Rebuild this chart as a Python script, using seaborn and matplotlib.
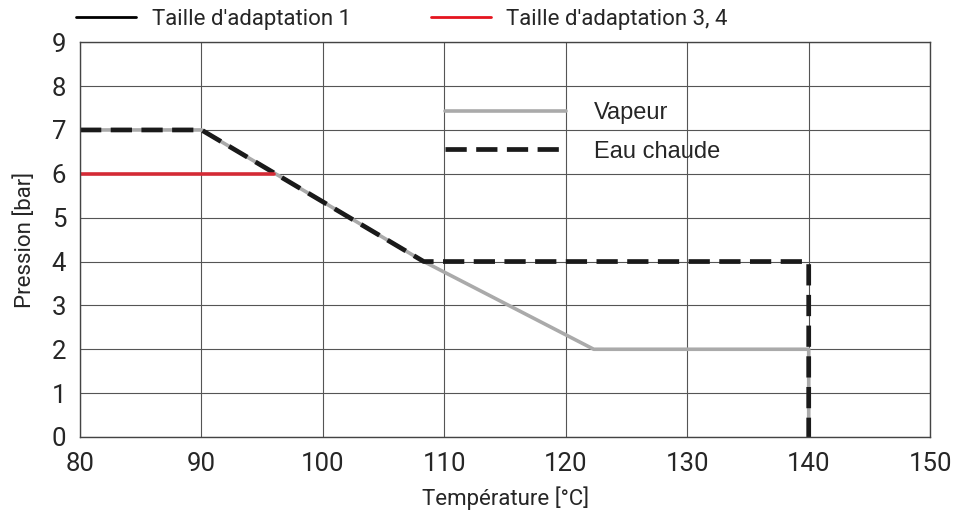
import pandas as pd
import numpy as np
import seaborn as sns
import matplotlib.pyplot as plt
from matplotlib.lines import Line2D

# values
vapeur_temp = [80, 90, 108.3, 122.3, 140, 140]
vapeur_pres = [7, 7, 4, 2, 2, 0]
eau_temp = [80, 90, 108.3, 140, 140]
eau_pres = [7, 7, 4, 4, 0]
taille34_temp = [80, 96]
taille34_pres = [6, 6]

sns.set_style("white")
plt.rcParams['font.family'] = ['Roboto', 'DejaVu Sans']

fig = plt.figure(figsize=(9.54, 5.15), dpi=100)
ax = fig.add_axes([0.0839, 0.1515, 0.975 - 0.0839, 0.918 - 0.1515])

sns.lineplot(x=vapeur_temp, y=vapeur_pres, sort=False, estimator=None,
             color='#aaaaaa', lw=2.6, ax=ax, label='Vapeur')
sns.lineplot(x=eau_temp, y=eau_pres, sort=False, estimator=None,
             color='#1a1a1a', lw=3.4, ax=ax, label='Eau chaude')
ax.lines[-1].set_dashes((4.5, 2))
sns.lineplot(x=taille34_temp, y=taille34_pres, sort=False, estimator=None,
             color='#d42a35', lw=2.6, ax=ax)

ax.set_xlim(80, 150)
ax.set_ylim(0, 9)
ax.set_xticks(np.arange(80, 151, 10))
ax.set_yticks(np.arange(0, 10, 1))
ax.grid(True, color='#555555', lw=0.8)
ax.set_axisbelow(True)
for s in ax.spines.values():
    s.set_color('#444444')
    s.set_linewidth(1.0)
ax.tick_params(labelsize=18.5, length=0)
ax.tick_params(axis='x', pad=11)
ax.tick_params(axis='y', pad=10)
ax.set_xlabel('Température [°C]', fontsize=16, labelpad=7)
ax.set_ylabel('Pression [bar]', fontsize=16, labelpad=11)

# inside legend
leg = ax.legend(loc='upper left', bbox_to_anchor=(0.416, 0.878), frameon=False,
                borderpad=0, handlelength=5.1, handletextpad=1.2,
                labelspacing=0.7,
                prop={'family': 'Liberation Sans', 'size': 17})

# top legend
handles = [Line2D([], [], color='black', lw=2),
           Line2D([], [], color='#e5141e', lw=2)]
fig.legend(handles, ["Taille d'adaptation 1", "Taille d'adaptation 3, 4"],
           loc='center left', bbox_to_anchor=(0.068, 0.962), ncol=2,
           frameon=False, fontsize=16, borderpad=0, handlelength=2.7,
           handletextpad=0.7, columnspacing=3.6)

fig.savefig('out.png', dpi=100)
